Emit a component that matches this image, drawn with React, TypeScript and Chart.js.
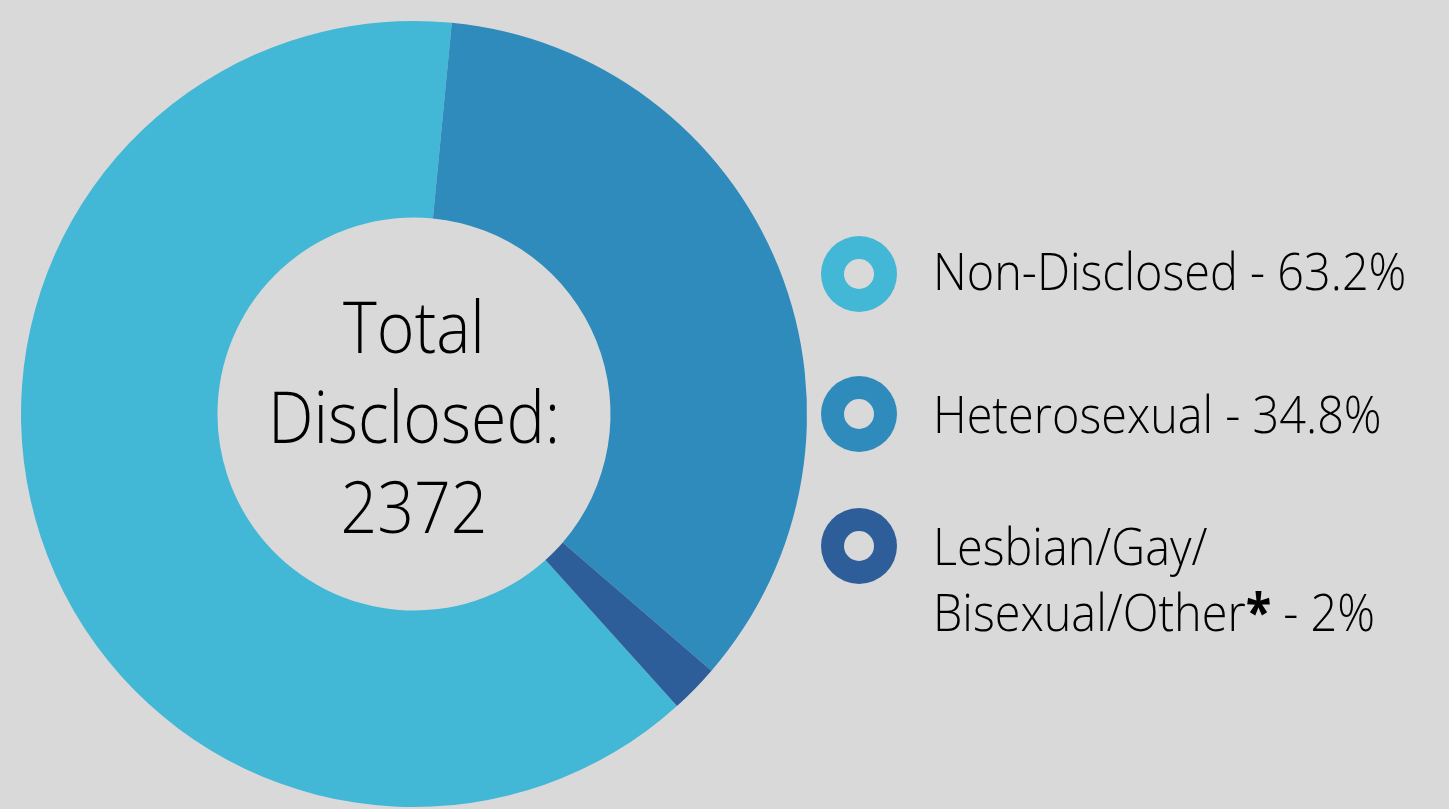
import React, { useEffect, useRef } from "react";
import { Chart, registerables } from "chart.js";

Chart.register(...registerables);

const categories = ["Non-Disclosed", "Heterosexual", "Lesbian/Gay/Bisexual/Other*"];
const percentValues = [63.2, 34.8, 2];
const sliceColors = ["#42b7d6", "#2e8bbc", "#2e5e9a"];
const legendLines = [
  ["Non-Disclosed - 63.2%"],
  ["Heterosexual - 34.8%"],
  ["Lesbian/Gay/", "Bisexual/Other* - 2%"],
];
const centerLines = ["Total", "Disclosed:", "2372"];

const BG = "#d9d9d9";
const FONT = "'Open Sans', 'Noto Sans', sans-serif";

function renderLine(text: string) {
  const idx = text.indexOf("*");
  if (idx < 0) return text;
  return (
    <>
      {text.slice(0, idx)}
      <span style={{ fontWeight: 700 }}>*</span>
      {text.slice(idx + 1)}
    </>
  );
}

export default function App() {
  const canvasRef = useRef<HTMLCanvasElement | null>(null);

  useEffect(() => {
    document.body.style.margin = "0";
    document.body.style.background = BG;
    const canvas = canvasRef.current;
    if (!canvas) return;
    const chart = new Chart(canvas, {
      type: "doughnut",
      data: {
        labels: categories,
        datasets: [
          {
            data: percentValues,
            backgroundColor: sliceColors,
            borderWidth: 0,
            hoverOffset: 0,
          },
        ],
      },
      options: {
        animation: false,
        responsive: false,
        maintainAspectRatio: false,
        rotation: 138,
        cutout: "50%",
        layout: { padding: { left: 21, top: 21, right: 642, bottom: 2 } },
        plugins: {
          legend: { display: false },
          tooltip: { enabled: false },
        },
      },
    });
    return () => chart.destroy();
  }, []);

  const legendTops = [237, 380, 512];
  const markerCenters = [274, 414, 546];

  return (
    <div
      style={{
        position: "fixed",
        left: 0,
        top: 0,
        width: 1449,
        height: 809,
        background: BG,
        overflow: "hidden",
      }}
    >
      <canvas ref={canvasRef} width={1449} height={809} style={{ position: "absolute", left: 0, top: 0 }} />
      <div
        style={{
          position: "absolute",
          left: 214,
          width: 400,
          top: 280,
          textAlign: "center",
          fontFamily: FONT,
          fontWeight: 300,
          fontSize: 72,
          lineHeight: "90px",
          color: "#000",
          transform: "scaleX(0.895)",
          transformOrigin: "50% 0",
        }}
      >
        {centerLines.map((l, i) => (
          <div key={i}>{l}</div>
        ))}
      </div>
      {categories.map((c, i) => (
        <React.Fragment key={c}>
          <div
            style={{
              position: "absolute",
              left: 859 - 38,
              top: markerCenters[i] - 38,
              width: 76,
              height: 76,
              borderRadius: "50%",
              background: sliceColors[i],
            }}
          >
            <div
              style={{
                position: "absolute",
                left: 38 - 15,
                top: 38 - 15,
                width: 30,
                height: 30,
                borderRadius: "50%",
                background: BG,
              }}
            />
          </div>
          <div
            style={{
              position: "absolute",
              left: 933,
              top: legendTops[i],
              fontFamily: FONT,
              fontWeight: 300,
              fontSize: 52,
              lineHeight: "66px",
              color: "#000",
              whiteSpace: "nowrap",
              transform: "scaleX(0.9)",
              transformOrigin: "0 0",
            }}
          >
            {legendLines[i].map((l, j) => (
              <div key={j}>{renderLine(l)}</div>
            ))}
          </div>
        </React.Fragment>
      ))}
    </div>
  );
}
